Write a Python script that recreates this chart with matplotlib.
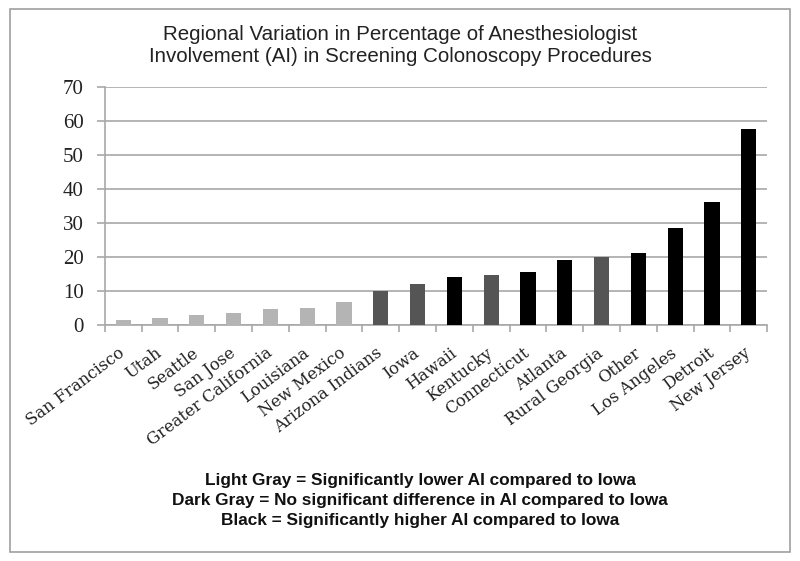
import numpy as np
import matplotlib.pyplot as plt
from matplotlib.patches import Rectangle

regions = ['San Francisco', 'Utah', 'Seattle', 'San Jose', 'Greater California',
           'Louisiana', 'New Mexico', 'Arizona Indians', 'Iowa', 'Hawaii',
           'Kentucky', 'Connecticut', 'Atlanta', 'Rural Georgia', 'Other',
           'Los Angeles', 'Detroit', 'New Jersey']
ai_pct = [1.5, 2.0, 3.0, 3.4, 4.8, 5.0, 6.9, 10.1, 12.0, 14.0,
          14.7, 15.6, 19.0, 19.9, 21.1, 28.5, 36.1, 57.7]
# L = lower than Iowa, N = no difference, H = higher
groups = ['L', 'L', 'L', 'L', 'L', 'L', 'L', 'N', 'N', 'H',
          'N', 'H', 'H', 'N', 'H', 'H', 'H', 'H']
group_colors = {'L': '#b4b4b4', 'N': '#555555', 'H': '#000000'}

title_lines = ['Regional Variation in Percentage of Anesthesiologist',
               'Involvement (AI) in Screening Colonoscopy Procedures']
key_lines = ['Light Gray = Significantly lower AI compared to Iowa',
             'Dark Gray = No significant difference in AI compared to Iowa',
             'Black = Significantly higher AI compared to Iowa']

fig = plt.figure(figsize=(8, 5.61), dpi=100)
ax = fig.add_axes([0.131, 0.4207, 0.828, 0.4243])

x = np.arange(len(regions))
ax.bar(x, ai_pct, width=0.41, color=[group_colors[g] for g in groups], zorder=3)

ax.set_xlim(-0.5, len(regions) - 0.5)
ax.set_ylim(0, 70)
ax.set_yticks(range(0, 71, 10))
ax.yaxis.grid(True, color='#a8a8a8', linewidth=1.2, zorder=0)
for lab in ax.get_yticklabels():
    lab.set_fontfamily('Liberation Serif')
    lab.set_fontsize(15)
    lab.set_color('#222222')
ax.tick_params(axis='y', length=6, width=1.2, color='#a8a8a8', pad=9)

# the source picture is stretched sideways, so the 45 degree labels lean less
ax.set_xticks(x)
ax.set_xticklabels(regions, rotation=37, ha='right', va='center',
                   rotation_mode='anchor', family='DejaVu Serif',
                   fontsize=11.8, color='#222222')
ax.set_xticks(np.arange(-0.5, len(regions)), minor=True)
ax.tick_params(axis='x', which='major', length=0, pad=19)
ax.tick_params(axis='x', which='minor', length=5, width=1.2, color='#a8a8a8')

for s in ['top', 'right']:
    ax.spines[s].set_visible(False)
for s in ['left', 'bottom']:
    ax.spines[s].set_color('#a8a8a8')
    ax.spines[s].set_linewidth(1.2)

for i, line in enumerate(title_lines):
    fig.text(0.5, 1 - (35 + 22 * i) / 561, line, ha='center', va='center',
             family='Liberation Sans', fontsize=14.8, color='#222222')

for i, line in enumerate(key_lines):
    fig.text(420 / 800, 1 - (481 + 19.5 * i) / 561, line, ha='center',
             va='center', family='Liberation Sans', fontsize=12.4,
             fontweight='bold', color='#111111')

fig.patches.append(Rectangle((10 / 800, 1 - 552 / 561), 780 / 800, 543 / 561,
                             transform=fig.transFigure, fill=False,
                             edgecolor='#a0a0a0', linewidth=1.2))

fig.savefig('out.png', dpi=100)
